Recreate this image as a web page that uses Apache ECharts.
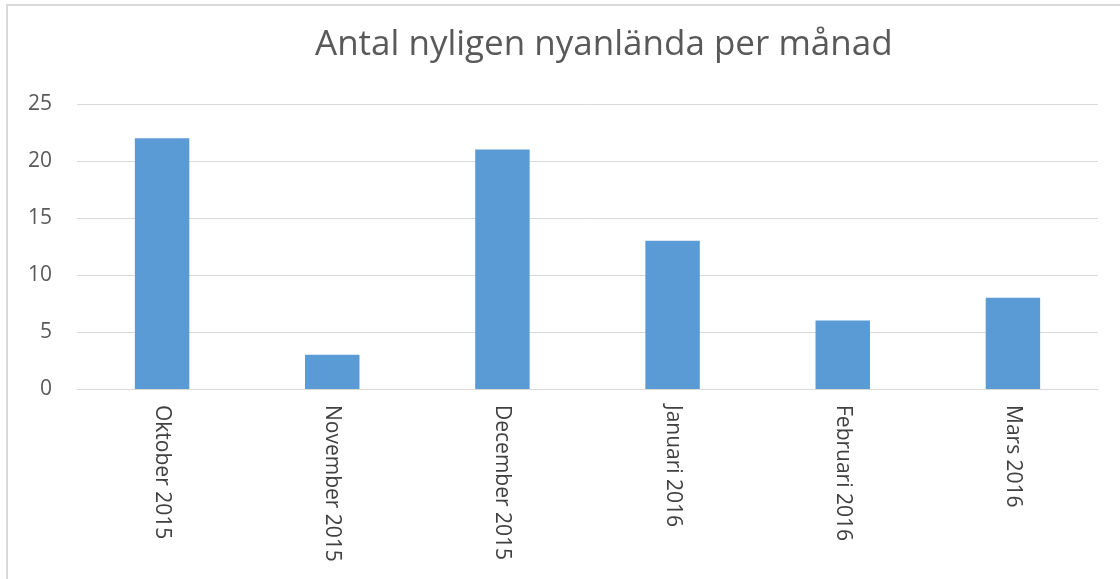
<!DOCTYPE html>
<html><head><meta charset="utf-8">
<script src="https://cdn.jsdelivr.net/npm/echarts@6/dist/echarts.min.js"></script>
<style>html,body{margin:0;padding:0;background:#fff}#c{width:1120px;height:579px}</style>
</head><body><div id="c"></div>
<script>
const categories = ['Oktober 2015','November 2015','December 2015','Januari 2016','Februari 2016','Mars 2016'];
const values = [22, 3, 21, 13, 6, 8];
const titleText = 'Antal nyligen nyanlända per månad';

const chart = echarts.init(document.getElementById('c'), null, {renderer:'canvas'});
chart.setOption({
  animation:false,
  backgroundColor:'#fff',
  title:{text:titleText,left:310,top:23,textStyle:{fontFamily:'Open Sans',fontSize:35,fontWeight:'normal',color:'#595959'}},
  graphic:[{type:'rect',shape:{x:7,y:5,width:1130,height:600},style:{fill:'none',stroke:'#d9d9d9',lineWidth:2},silent:true}],
  grid:{left:77,right:22,top:104,bottom:190,containLabel:false},
  xAxis:{type:'category',data:categories,
    axisLine:{lineStyle:{color:'#d9d9d9'}},axisTick:{show:false},
    axisLabel:{rotate:-90,margin:16,color:'#404040',fontFamily:'Open Sans',fontSize:21}},
  yAxis:{type:'value',min:0,max:25,interval:5,
    axisLine:{show:false},axisTick:{show:false},
    splitLine:{lineStyle:{color:'#d9d9d9',width:1}},
    axisLabel:{margin:25,color:'#595959',fontFamily:'Open Sans',fontSize:21}},
  series:[{type:'bar',data:values,barWidth:'32%',itemStyle:{color:'#5b9bd5'}}]
});
</script></body></html>
